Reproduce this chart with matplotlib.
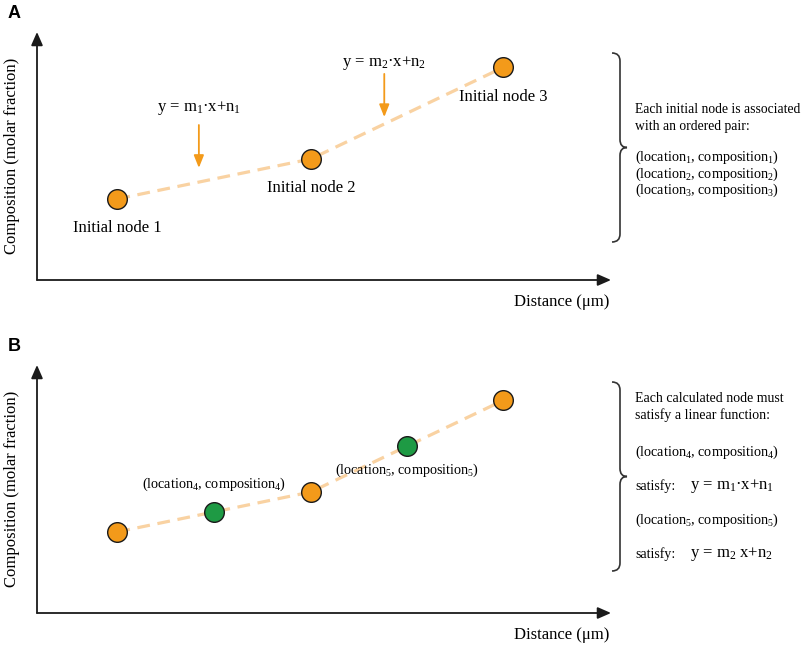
import matplotlib
matplotlib.use("Agg")
import matplotlib.pyplot as plt
from matplotlib.path import Path
from matplotlib.patches import PathPatch

# initial nodes (same in both panels), arbitrary units on 0-10 axes
location = [1.4, 4.77, 8.12]
composition = [3.27, 4.88, 8.57]
node_labels = ["Initial node 1", "Initial node 2", "Initial node 3"]

# calculated nodes of panel B
calc_location = [3.08, 6.45]
calc_composition = [4.08, 6.72]
calc_labels = [r"(location$_4$, composition$_4$)", r"(location$_5$, composition$_5$)"]

# linear functions drawn over each segment in panel A
equations = [r"y = m$_1$·x+n$_1$", r"y = m$_2$·x+n$_2$"]
eq_x = [2.82, 6.05]
eq_arrow_top = [6.25, 8.31]
eq_arrow_end = [4.52, 6.57]

text_a_head = ["Each initial node is associated", "with an ordered pair:"]
text_a_pairs = [r"(location$_1$, composition$_1$)",
                r"(location$_2$, composition$_2$)",
                r"(location$_3$, composition$_3$)"]
text_b_head = ["Each calculated node must", "satisfy a linear function:"]
text_b_eqs = [r"y = m$_1$·x+n$_1$", r"y = m$_2$ x+n$_2$"]

ORANGE = "#F39A1A"
GREEN = "#1E9A44"
PEACH = "#F9D2A2"
DARK = "#1a1a1a"

plt.rcParams["font.family"] = "Liberation Serif"
plt.rcParams["mathtext.fontset"] = "custom"
plt.rcParams["mathtext.rm"] = "Liberation Serif"
plt.rcParams["mathtext.it"] = "Liberation Serif:italic"
plt.rcParams["mathtext.bf"] = "Liberation Serif:bold"

W, H = 809, 646
fig = plt.figure(figsize=(W / 100, H / 100), dpi=100)
fig.patch.set_facecolor("white")


def fx(x):
    return x / W


def fy(y):
    return 1 - y / H


def draw_brace(x, y_top, y_bot, hook=8, tip=7):
    ym = (y_top + y_bot) / 2
    pts = [(x - hook, y_top), (x, y_top), (x, y_top + hook),
           (x, ym - hook), (x, ym), (x + tip, ym),
           (x, ym), (x, ym + hook),
           (x, y_bot - hook), (x, y_bot), (x - hook, y_bot)]
    codes = [Path.MOVETO, Path.CURVE3, Path.CURVE3,
             Path.LINETO, Path.CURVE3, Path.CURVE3,
             Path.CURVE3, Path.CURVE3,
             Path.LINETO, Path.CURVE3, Path.CURVE3]
    verts = [(fx(px), fy(py)) for px, py in pts]
    fig.patches.append(PathPatch(Path(verts, codes), transform=fig.transFigure,
                                 fill=False, lw=1.2, edgecolor="#333333"))


def setup_axes(top_px, letter):
    ax = fig.add_axes([fx(37), fy(top_px + 248), 574 / W, 248 / H])
    ax.set_xlim(0, 10)
    ax.set_ylim(0, 10)
    ax.axis("off")
    arrow = dict(arrowstyle="-|>,head_length=0.8,head_width=0.35",
                 lw=1.3, color=DARK, shrinkA=0, shrinkB=0)
    ax.annotate("", xy=(1, 0), xytext=(0, 0), xycoords="axes fraction", arrowprops=arrow)
    ax.annotate("", xy=(0, 1), xytext=(0, 0), xycoords="axes fraction", arrowprops=arrow)
    ax.text(-25 / 574, 0.5, "Composition (molar fraction)", rotation=90,
            ha="center", va="center", fontsize=12, transform=ax.transAxes)
    ax.text(0.997, -22 / 248, "Distance (μm)", ha="right", va="center",
            fontsize=12, transform=ax.transAxes)
    fig.text(fx(8), fy(top_px - 27), letter, family="Liberation Sans",
             fontweight="bold", fontsize=13, ha="left", va="top")
    ax.plot(location, composition, ls=(0, (4, 2.4)), color=PEACH, lw=2.3, zorder=1)
    return ax


# ---- panel A ----
ax_a = setup_axes(32, "A")
ax_a.scatter(location, composition, s=200, c=ORANGE, edgecolors=DARK, lw=1, zorder=3)
for x, y, lab in zip(location, composition, node_labels):
    ax_a.annotate(lab, (x, y), xytext=(0, -21), textcoords="offset points",
                  ha="center", va="center", fontsize=12)
for x, y0, y1, eq, dy in zip(eq_x, eq_arrow_top, eq_arrow_end, equations, [12, 8]):
    ax_a.annotate("", xy=(x, y1), xytext=(x, y0),
                  arrowprops=dict(arrowstyle="-|>,head_length=0.75,head_width=0.3",
                                  lw=1.3, color=ORANGE, shrinkA=0, shrinkB=0))
    ax_a.annotate(eq, (x, y0), xytext=(0, dy), textcoords="offset points",
                  ha="center", va="center", fontsize=12)

draw_brace(620, 53, 242)
fig.text(fx(635), fy(103), "\n".join(text_a_head), ha="left", va="top",
         fontsize=9.8, linespacing=1.38)
fig.text(fx(635), fy(149), "\n".join(text_a_pairs), ha="left", va="top",
         fontsize=10.2, linespacing=0.93)

# ---- panel B ----
ax_b = setup_axes(365, "B")
ax_b.scatter(location, composition, s=200, c=ORANGE, edgecolors=DARK, lw=1, zorder=3)
ax_b.scatter(calc_location, calc_composition, s=200, c=GREEN, edgecolors=DARK, lw=1, zorder=3)
for x, y, lab, dy in zip(calc_location, calc_composition, calc_labels, [20, -17]):
    ax_b.annotate(lab, (x, y), xytext=(0, dy), textcoords="offset points",
                  ha="center", va="center", fontsize=10.2)

draw_brace(620, 382, 571)
fig.text(fx(635), fy(392), "\n".join(text_b_head), ha="left", va="top",
         fontsize=10, linespacing=1.32)
for lab, ypair, yeq, eq in zip(calc_labels, [452, 520], [486, 554], text_b_eqs):
    fig.text(fx(635), fy(ypair), lab, ha="left", va="center", fontsize=10.2)
    fig.text(fx(635), fy(yeq), "satisfy:", ha="left", va="center", fontsize=10)
    fig.text(fx(690), fy(yeq), eq, ha="left", va="center", fontsize=12)

fig.savefig("out.png", dpi=100, facecolor="white")
